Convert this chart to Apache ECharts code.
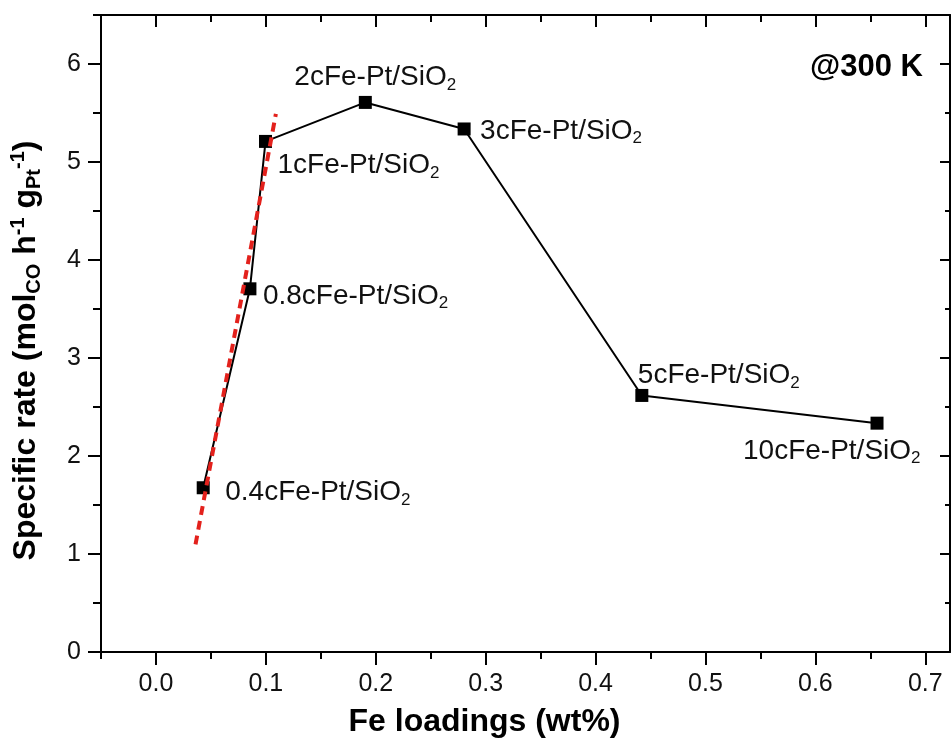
<!DOCTYPE html>
<html>
<head>
<meta charset="utf-8">
<title>Specific rate vs Fe loadings</title>
<script src="https://cdn.jsdelivr.net/npm/echarts@6/dist/echarts.min.js"></script>
<style>
  html, body { margin: 0; padding: 0; background: #ffffff; }
  #chart { width: 951px; height: 743px; }
</style>
</head>
<body>
<div id="chart"></div>
<script>
// Samples: Fe loading (wt%) and specific rate (mol_CO h^-1 g_Pt^-1) at 300 K
const sampleNames = ['0.4cFe-Pt/SiO2', '0.8cFe-Pt/SiO2', '1cFe-Pt/SiO2', '2cFe-Pt/SiO2',
                     '3cFe-Pt/SiO2', '5cFe-Pt/SiO2', '10cFe-Pt/SiO2'];
const feLoading = [0.043, 0.0855, 0.0997, 0.1905, 0.2804, 0.4421, 0.6561];
const specificRate = [1.676, 3.706, 5.21, 5.608, 5.337, 2.618, 2.335];

// Linear trend through the low-loading samples (red dashed)
const trendX = [0.036, 0.1091];
const trendY = [1.098, 5.49];

// Axis ranges and tick values
const xRange = [-0.05, 0.7225];
const yRange = [0, 6.5];
const xMajorTicks = [0, 0.1, 0.2, 0.3, 0.4, 0.5, 0.6, 0.7];
const xMinorTicks = [-0.05, 0.05, 0.15, 0.25, 0.35, 0.45, 0.55, 0.65];
const yMajorTicks = [0, 1, 2, 3, 4, 5, 6];
const yMinorTicks = [0.5, 1.5, 2.5, 3.5, 4.5, 5.5, 6.5];

// Label placement for each sample, in pixels from the marker centre
const labelShift = [[22, 5], [13, 7], [12, 24], [-71, -25], [16, 2], [-4, -20], [-134, 28]];

const FONT = "'Liberation Sans', Arial, Helvetica, sans-serif";
const INK = '#000000';
const SYM = 13;

function frameAxis(position, ticks, len, inside, showLine, withLabels) {
  const isX = position === 'bottom' || position === 'top';
  return {
    type: 'value',
    position: position,
    min: isX ? xRange[0] : yRange[0],
    max: isX ? xRange[1] : yRange[1],
    axisLine: { show: showLine, onZero: false, lineStyle: { color: INK, width: 2 } },
    axisTick: { show: true, inside: inside, length: len, customValues: ticks,
                lineStyle: { color: INK, width: 2 } },
    axisLabel: withLabels ? {
      show: true,
      customValues: ticks,
      fontFamily: FONT, fontSize: 25, color: '#111',
      margin: isX ? 20 : 20,
      formatter: v => isX ? v.toFixed(1) : String(Math.round(v))
    } : { show: false },
    splitLine: { show: false },
    z: 5
  };
}

const chart = echarts.init(document.getElementById('chart'), null, { renderer: 'canvas' });

const labelRich = {
  t: { fontFamily: FONT, fontSize: 28, color: '#111', lineHeight: 32 },
  s: { fontFamily: FONT, fontSize: 17, color: '#111', lineHeight: 18, verticalAlign: 'bottom' }
};

const pointData = feLoading.map((x, i) => ({
  value: [x, specificRate[i]],
  name: sampleNames[i],
  label: {
    show: true,
    position: [SYM / 2 + labelShift[i][0], SYM / 2 + labelShift[i][1]],
    align: 'left',
    verticalAlign: 'middle',
    formatter: p => '{t|' + p.name.slice(0, -1) + '}{s|' + p.name.slice(-1) + '}',
    rich: labelRich
  }
}));

const option = {
  animation: false,
  backgroundColor: '#ffffff',
  grid: { left: 98, right: 1, top: 15, bottom: 91, containLabel: false },
  xAxis: [
    Object.assign(frameAxis('bottom', xMajorTicks, 13, false, true, true), {
      name: 'Fe loadings (wt%)',
      nameLocation: 'middle',
      nameGap: 54,
      nameTextStyle: { fontFamily: FONT, fontSize: 32, fontWeight: 'bold', color: INK,
                       padding: [0, 82, 0, 0] }
    }),
    frameAxis('bottom', xMinorTicks, 7, false, false, false),
    frameAxis('top', xMajorTicks, 12, true, true, false),
    frameAxis('top', xMinorTicks, 7, true, false, false)
  ],
  yAxis: [
    Object.assign(frameAxis('left', yMajorTicks, 13, false, true, true), {
      name: '{b|Specific rate (mol}{bs|CO}{b| h}{bp|-1}{b| g}{bs|Pt}{bp|-1}{b|)}',
      nameLocation: 'middle',
      nameRotate: 90,
      nameGap: 57,
      nameTextStyle: {
        color: INK,
        padding: [0, 34, 0, 0],
        rich: {
          b: { fontFamily: FONT, fontSize: 32, fontWeight: 'bold', color: INK, lineHeight: 36 },
          bs: { fontFamily: FONT, fontSize: 20, fontWeight: 'bold', color: INK, lineHeight: 24, verticalAlign: 'bottom' },
          bp: { fontFamily: FONT, fontSize: 20, fontWeight: 'bold', color: INK, lineHeight: 24, verticalAlign: 'top' }
        }
      }
    }),
    frameAxis('left', yMinorTicks, 8, false, false, false),
    frameAxis('right', yMajorTicks, 10, true, true, false),
    frameAxis('right', yMinorTicks, 5, true, false, false)
  ],
  graphic: [{
    type: 'text',
    x: 923, y: 67,
    style: { text: '@300 K', font: 'bold 31px ' + FONT, fill: INK, align: 'right', verticalAlign: 'middle' },
    z: 10
  }],
  series: [
    {
      name: 'Specific rate',
      type: 'line',
      xAxisIndex: 0, yAxisIndex: 0,
      data: pointData,
      symbol: 'rect',
      symbolSize: SYM,
      itemStyle: { color: INK },
      lineStyle: { color: INK, width: 2 },
      z: 3
    },
    {
      name: 'Linear trend',
      type: 'line',
      xAxisIndex: 0, yAxisIndex: 0,
      data: trendX.map((x, i) => [x, trendY[i]]),
      symbol: 'none',
      lineStyle: { color: '#e3211c', width: 4, type: [9, 6] },
      z: 4,
      silent: true
    }
  ]
};

chart.setOption(option);
</script>
</body>
</html>
